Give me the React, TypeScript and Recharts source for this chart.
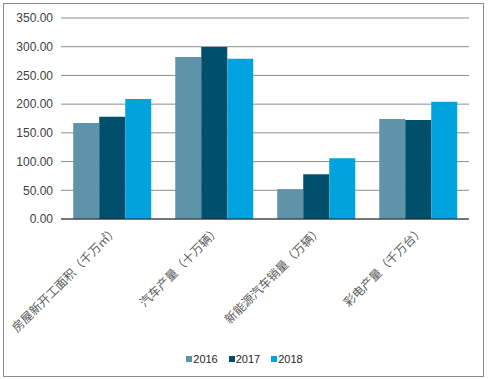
import React from 'react';
import { Bar, BarChart, CartesianGrid, Legend, XAxis, YAxis } from 'recharts';

const categories = ['房屋新开工面积（千万㎡）', '汽车产量（十万辆）', '新能源汽车销量（万辆）', '彩电产量（千万台）'];
const values2016 = [167, 282, 52, 174];
const values2017 = [178, 299.5, 78, 172.5];
const values2018 = [209, 279, 106, 204];
const yTicks = [0, 50, 100, 150, 200, 250, 300, 350];

const chartData = categories.map((name, i) => ({
  name,
  y2016: values2016[i],
  y2017: values2017[i],
  y2018: values2018[i],
}));

interface TickProps {
  x?: number;
  y?: number;
  payload?: { value: string };
}

// rotated category labels
const AngledTick = ({ x = 0, y = 0, payload }: TickProps) => (
  <g transform={`translate(${x},${y})`}>
    <text
      x={0}
      y={0}
      dx={2}
      dy={8}
      textAnchor="end"
      transform="rotate(-45)"
      fill="#595959"
      fontSize={12}
      fontFamily='"Noto Sans CJK SC", sans-serif'
    >
      {payload?.value}
    </text>
  </g>
);

interface LegendEntry {
  value?: string;
  color?: string;
}

// compact legend like the original
const LegendContent = ({ payload }: { payload?: LegendEntry[] }) => (
  <div style={{ display: 'flex', justifyContent: 'center', alignItems: 'center', gap: 11 }}>
    {(payload ?? []).map((entry, i) => (
      <div key={i} style={{ display: 'flex', alignItems: 'center', gap: 1 }}>
        <span style={{ display: 'inline-block', width: 6, height: 6, background: entry.color }} />
        <span style={{ color: '#262626', fontSize: 11, lineHeight: '14px' }}>{entry.value}</span>
      </div>
    ))}
  </div>
);

const App: React.FC = () => {
  return (
    <div style={{ position: 'absolute', left: 0, top: 0, width: 489, height: 379, background: '#fff' }}>
      <div
        style={{
          position: 'absolute',
          left: 3,
          top: 3,
          width: 479,
          height: 372,
          border: '1px solid #8c8c8c',
        }}
      />
      <BarChart
        width={489}
        height={379}
        data={chartData}
        margin={{ top: 18, right: 20, left: 0, bottom: 0 }}
        barCategoryGap="12%"
        barGap={0}
        style={{ position: 'absolute', left: 0, top: 0 }}
      >
        <CartesianGrid vertical={false} stroke="#8c8c8c" strokeWidth={1} />
        <XAxis
          dataKey="name"
          height={160}
          axisLine={{ stroke: '#262626' }}
          tickLine={false}
          interval={0}
          tick={<AngledTick />}
        />
        <YAxis
          width={61}
          domain={[0, 350]}
          ticks={yTicks}
          axisLine={false}
          tickLine={false}
          tickFormatter={(v: number) => v.toFixed(2)}
          tick={{ fill: '#404040', fontSize: 12, fontFamily: '"Liberation Sans", Arial, sans-serif' }}
        />
        <Legend
          layout="horizontal"
          verticalAlign="middle"
          align="center"
          content={<LegendContent />}
          wrapperStyle={{
            top: 352,
            left: 0,
            width: 489,
            fontFamily: '"Liberation Sans", Arial, sans-serif',
          }}
        />
        <Bar dataKey="y2016" name="2016" fill="#5f93aa" isAnimationActive={false} />
        <Bar dataKey="y2017" name="2017" fill="#004f6b" isAnimationActive={false} />
        <Bar dataKey="y2018" name="2018" fill="#00a3dd" isAnimationActive={false} />
      </BarChart>
    </div>
  );
};

export default App;
